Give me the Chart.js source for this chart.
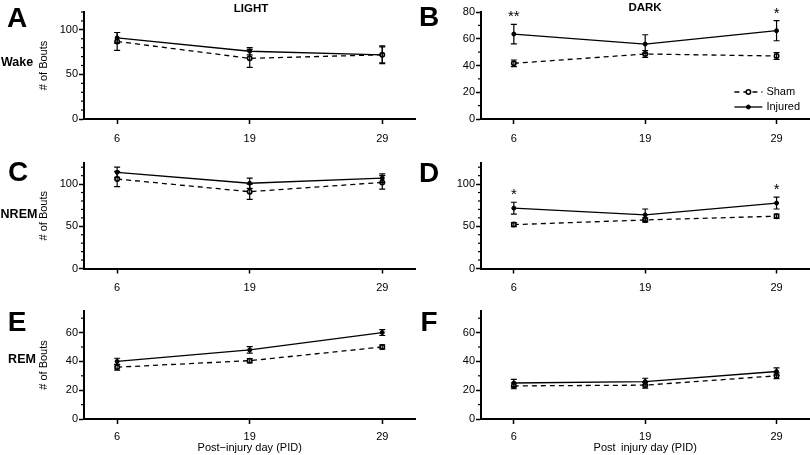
<!DOCTYPE html>
<html>
<head>
<meta charset="utf-8">
<script src="https://cdn.jsdelivr.net/npm/chart.js@4.4.1/dist/chart.umd.min.js"></script>
<style>
body { margin: 0; background: #fff; }
#wrap { position: relative; width: 810px; height: 455px; overflow: hidden; font-family: "Liberation Sans", Arial, sans-serif; color: #000; }
canvas { position: absolute; }
.lbl { position: absolute; transform: translate(-50%, -50%); line-height: 1; white-space: nowrap; font-weight: bold; }
.big { font-size: 28px; }
.row { font-size: 12.5px; }
.col { font-size: 11.5px; }
</style>
</head>
<body>
<div id="wrap">
  <canvas id="cA" width="421" height="150" style="left:0;top:0"></canvas>
  <canvas id="cB" width="400" height="150" style="left:415px;top:0"></canvas>
  <canvas id="cC" width="421" height="150" style="left:0;top:150px"></canvas>
  <canvas id="cD" width="400" height="150" style="left:415px;top:150px"></canvas>
  <canvas id="cE" width="421" height="155" style="left:0;top:300px"></canvas>
  <canvas id="cF" width="400" height="155" style="left:415px;top:300px"></canvas>

  <div class="lbl big" style="left:17px;top:18px">A</div>
  <div class="lbl big" style="left:429px;top:17px">B</div>
  <div class="lbl big" style="left:18px;top:172px">C</div>
  <div class="lbl big" style="left:429px;top:173px">D</div>
  <div class="lbl big" style="left:17px;top:322px">E</div>
  <div class="lbl big" style="left:429px;top:322px">F</div>

  <div class="lbl row" style="left:17px;top:62px">Wake</div>
  <div class="lbl row" style="left:19px;top:214px">NREM</div>
  <div class="lbl row" style="left:22px;top:359px">REM</div>

  <div class="lbl col" style="left:251px;top:9px">LIGHT</div>
  <div class="lbl col" style="left:645px;top:8px">DARK</div>
</div>
<script>
// post-injury days on the x axis
const days = [6, 19, 29];

// Wake, light phase
const wakeLightSham = [87, 68, 72];
const wakeLightShamErr = [10, 10, 9];
const wakeLightInj = [91, 76, 72];
const wakeLightInjErr = [6, 4, 10];

// Wake, dark phase
const wakeDarkSham = [41.6, 48.6, 47.1];
const wakeDarkShamErr = [2.5, 2.5, 2.5];
const wakeDarkInj = [63.5, 56, 66];
const wakeDarkInjErr = [7.3, 7, 7.5];
const wakeDarkStars = ['**', '', '*'];

// NREM, light phase
const nremLightSham = [106, 91, 102];
const nremLightShamErr = [9, 9, 8];
const nremLightInj = [114, 101, 107];
const nremLightInjErr = [6, 6, 5];

// NREM, dark phase
const nremDarkSham = [52, 57.5, 62];
const nremDarkShamErr = [2.5, 2.5, 2.5];
const nremDarkInj = [71.5, 63.5, 77.5];
const nremDarkInjErr = [7, 7, 7];
const nremDarkStars = ['*', '', '*'];

// REM, light phase
const remLightSham = [36, 40.5, 50];
const remLightShamErr = [2, 1.5, 1.5];
const remLightInj = [40, 48, 60];
const remLightInjErr = [2.2, 2.2, 2];

// REM, dark phase
const remDarkSham = [23, 23.5, 30];
const remDarkShamErr = [2, 2, 2];
const remDarkInj = [25, 26, 33];
const remDarkInjErr = [2.5, 2.3, 2.5];

// y tick labels
const wakeLightTicks = [0, 50, 100];
const wakeDarkTicks = [0, 20, 40, 60, 80];
const nremTicks = [0, 50, 100];
const remTicks = [0, 20, 40, 60];

Chart.defaults.font.family = '"Liberation Sans", Arial, sans-serif';
Chart.defaults.font.size = 11;
Chart.defaults.color = '#000';

// --- error bars (mean +/- err) ---
const errorBars = {
    id: 'errorBars',
    afterDatasetsDraw(chart) {
        const ctx = chart.ctx;
        const y = chart.scales.y;
        chart.data.datasets.forEach((ds, i) => {
            const meta = chart.getDatasetMeta(i);
            ctx.save();
            ctx.strokeStyle = '#000';
            ctx.lineWidth = 1.2;
            meta.data.forEach((pt, j) => {
                const top = y.getPixelForValue(ds.data[j].y + ds.errors[j]);
                const bot = y.getPixelForValue(ds.data[j].y - ds.errors[j]);
                ctx.beginPath();
                ctx.moveTo(pt.x, top); ctx.lineTo(pt.x, bot);
                ctx.moveTo(pt.x - 3, top); ctx.lineTo(pt.x + 3, top);
                ctx.moveTo(pt.x - 3, bot); ctx.lineTo(pt.x + 3, bot);
                ctx.stroke();
            });
            ctx.restore();
        });
    }
};

// --- minor ticks on the y axis ---
const minorTicks = {
    id: 'minorTicks',
    afterDraw(chart, args, opts) {
        const y = chart.scales.y;
        const ctx = chart.ctx;
        ctx.save();
        ctx.strokeStyle = '#000';
        ctx.lineWidth = 1.2;
        for (let v = 0; v <= y.max; v += opts.step) {
            if (opts.major.includes(v)) continue;
            const py = y.getPixelForValue(v);
            ctx.beginPath();
            ctx.moveTo(y.right - 3, py);
            ctx.lineTo(y.right, py);
            ctx.stroke();
        }
        ctx.restore();
    }
};

// --- significance stars above the injured error bars ---
const stars = {
    id: 'stars',
    afterDatasetsDraw(chart, args, opts) {
        if (!opts.marks) return;
        const ctx = chart.ctx;
        const y = chart.scales.y;
        const ds = chart.data.datasets[1];
        const meta = chart.getDatasetMeta(1);
        ctx.save();
        ctx.fillStyle = '#000';
        ctx.font = '15px "Liberation Sans", Arial, sans-serif';
        ctx.textAlign = 'center';
        ctx.textBaseline = 'alphabetic';
        opts.marks.forEach((m, j) => {
            if (!m) return;
            const top = y.getPixelForValue(ds.data[j].y + ds.errors[j]);
            ctx.fillText(m, meta.data[j].x, top - 3);
        });
        ctx.restore();
    }
};

// --- small legend in the bottom right of the chart area ---
const legendBox = {
    id: 'legendBox',
    afterDraw(chart, args, opts) {
        if (!opts.show) return;
        const a = chart.chartArea;
        const ctx = chart.ctx;
        chart.data.datasets.forEach((ds, i) => {
            const yy = a.bottom - (i === 0 ? 27 : 12);
            const x0 = a.right - 75, x1 = a.right - 47;
            ctx.save();
            ctx.strokeStyle = '#000';
            ctx.lineWidth = ds.borderWidth;
            ctx.setLineDash(ds.borderDash || []);
            ctx.beginPath();
            ctx.moveTo(x0, yy); ctx.lineTo(x1, yy);
            ctx.stroke();
            ctx.setLineDash([]);
            ctx.beginPath();
            ctx.arc((x0 + x1) / 2, yy, ds.pointRadius, 0, Math.PI * 2);
            ctx.fillStyle = ds.pointBackgroundColor;
            ctx.fill();
            ctx.lineWidth = ds.pointBorderWidth;
            ctx.stroke();
            ctx.fillStyle = '#000';
            ctx.font = '11px "Liberation Sans", Arial, sans-serif';
            ctx.textBaseline = 'middle';
            ctx.textAlign = 'left';
            ctx.fillText(ds.label, a.right - 43, yy);
            ctx.restore();
        });
    }
};

function toPoints(vals) {
    return vals.map((v, i) => ({ x: i, y: v }));
}

function makePanel(id, cfg) {
    new Chart(document.getElementById(id), {
        type: 'line',
        data: {
            datasets: [{
                label: 'Sham',
                data: toPoints(cfg.sham),
                errors: cfg.shamErr,
                borderColor: '#000',
                borderWidth: 1.3,
                borderDash: [5, 4],
                pointRadius: 2.2,
                pointBorderWidth: 1.6,
                pointBackgroundColor: '#fff',
                pointBorderColor: '#000',
                tension: 0
            }, {
                label: 'Injured',
                data: toPoints(cfg.inj),
                errors: cfg.injErr,
                borderColor: '#000',
                borderWidth: 1.3,
                pointRadius: 2,
                pointBorderWidth: 1,
                pointBackgroundColor: '#000',
                pointBorderColor: '#000',
                tension: 0
            }]
        },
        options: {
            responsive: false,
            animation: false,
            events: [],
            layout: { padding: { top: cfg.top, left: 0, right: 0, bottom: 0 } },
            plugins: {
                legend: { display: false },
                tooltip: { enabled: false },
                minorTicks: { step: 10, major: cfg.ticks },
                stars: { marks: cfg.stars },
                legendBox: { show: !!cfg.legend }
            },
            scales: {
                x: {
                    type: 'linear',
                    min: -0.25,
                    max: 2.25,
                    afterBuildTicks: s => { s.ticks = days.map((d, i) => ({ value: i })); },
                    ticks: { callback: v => days[v], padding: cfg.xpad, maxRotation: 0, autoSkip: false },
                    grid: { drawOnChartArea: false, tickLength: 5, tickWidth: 1.5, tickColor: '#000' },
                    border: { color: '#000', width: 2 },
                    afterFit: s => { s.height = cfg.xh; },
                    title: { display: !!cfg.xTitle, text: cfg.xTitle, padding: 0, font: { size: 11 } }
                },
                y: {
                    min: 0,
                    max: cfg.max,
                    afterBuildTicks: s => { s.ticks = cfg.ticks.map(v => ({ value: v })); },
                    ticks: { padding: 1 },
                    grid: { drawOnChartArea: false, tickLength: 5, tickWidth: 1.5, tickColor: '#000' },
                    border: { color: '#000', width: 2 },
                    afterFit: s => { s.width = cfg.yw; },
                    title: { display: !!cfg.yTitle, text: '# of Bouts', padding: { top: 37, bottom: 0 }, font: { size: 11 } }
                }
            }
        },
        plugins: [errorBars, minorTicks, stars, legendBox]
    });
}

makePanel('cA', { sham: wakeLightSham, shamErr: wakeLightShamErr, inj: wakeLightInj, injErr: wakeLightInjErr,
    max: 120, ticks: wakeLightTicks, top: 12, xh: 31, xpad: 8, yw: 84, yTitle: true });
makePanel('cB', { sham: wakeDarkSham, shamErr: wakeDarkShamErr, inj: wakeDarkInj, injErr: wakeDarkInjErr,
    max: 80, ticks: wakeDarkTicks, top: 12, xh: 31, xpad: 8, yw: 66, stars: wakeDarkStars, legend: true });
makePanel('cC', { sham: nremLightSham, shamErr: nremLightShamErr, inj: nremLightInj, injErr: nremLightInjErr,
    max: 125, ticks: nremTicks, top: 13, xh: 31.5, xpad: 8, yw: 84, yTitle: true });
makePanel('cD', { sham: nremDarkSham, shamErr: nremDarkShamErr, inj: nremDarkInj, injErr: nremDarkInjErr,
    max: 125, ticks: nremTicks, top: 13, xh: 31.5, xpad: 8, yw: 66, stars: nremDarkStars });
makePanel('cE', { sham: remLightSham, shamErr: remLightShamErr, inj: remLightInj, injErr: remLightInjErr,
    max: 75, ticks: remTicks, top: 11, xh: 36, xpad: 6, yw: 84, yTitle: true, xTitle: 'Post\u2212injury day (PID)' });
makePanel('cF', { sham: remDarkSham, shamErr: remDarkShamErr, inj: remDarkInj, injErr: remDarkInjErr,
    max: 75, ticks: remTicks, top: 11, xh: 36, xpad: 6, yw: 66, xTitle: 'Post\u2002injury day (PID)' });
</script>
</body>
</html>
